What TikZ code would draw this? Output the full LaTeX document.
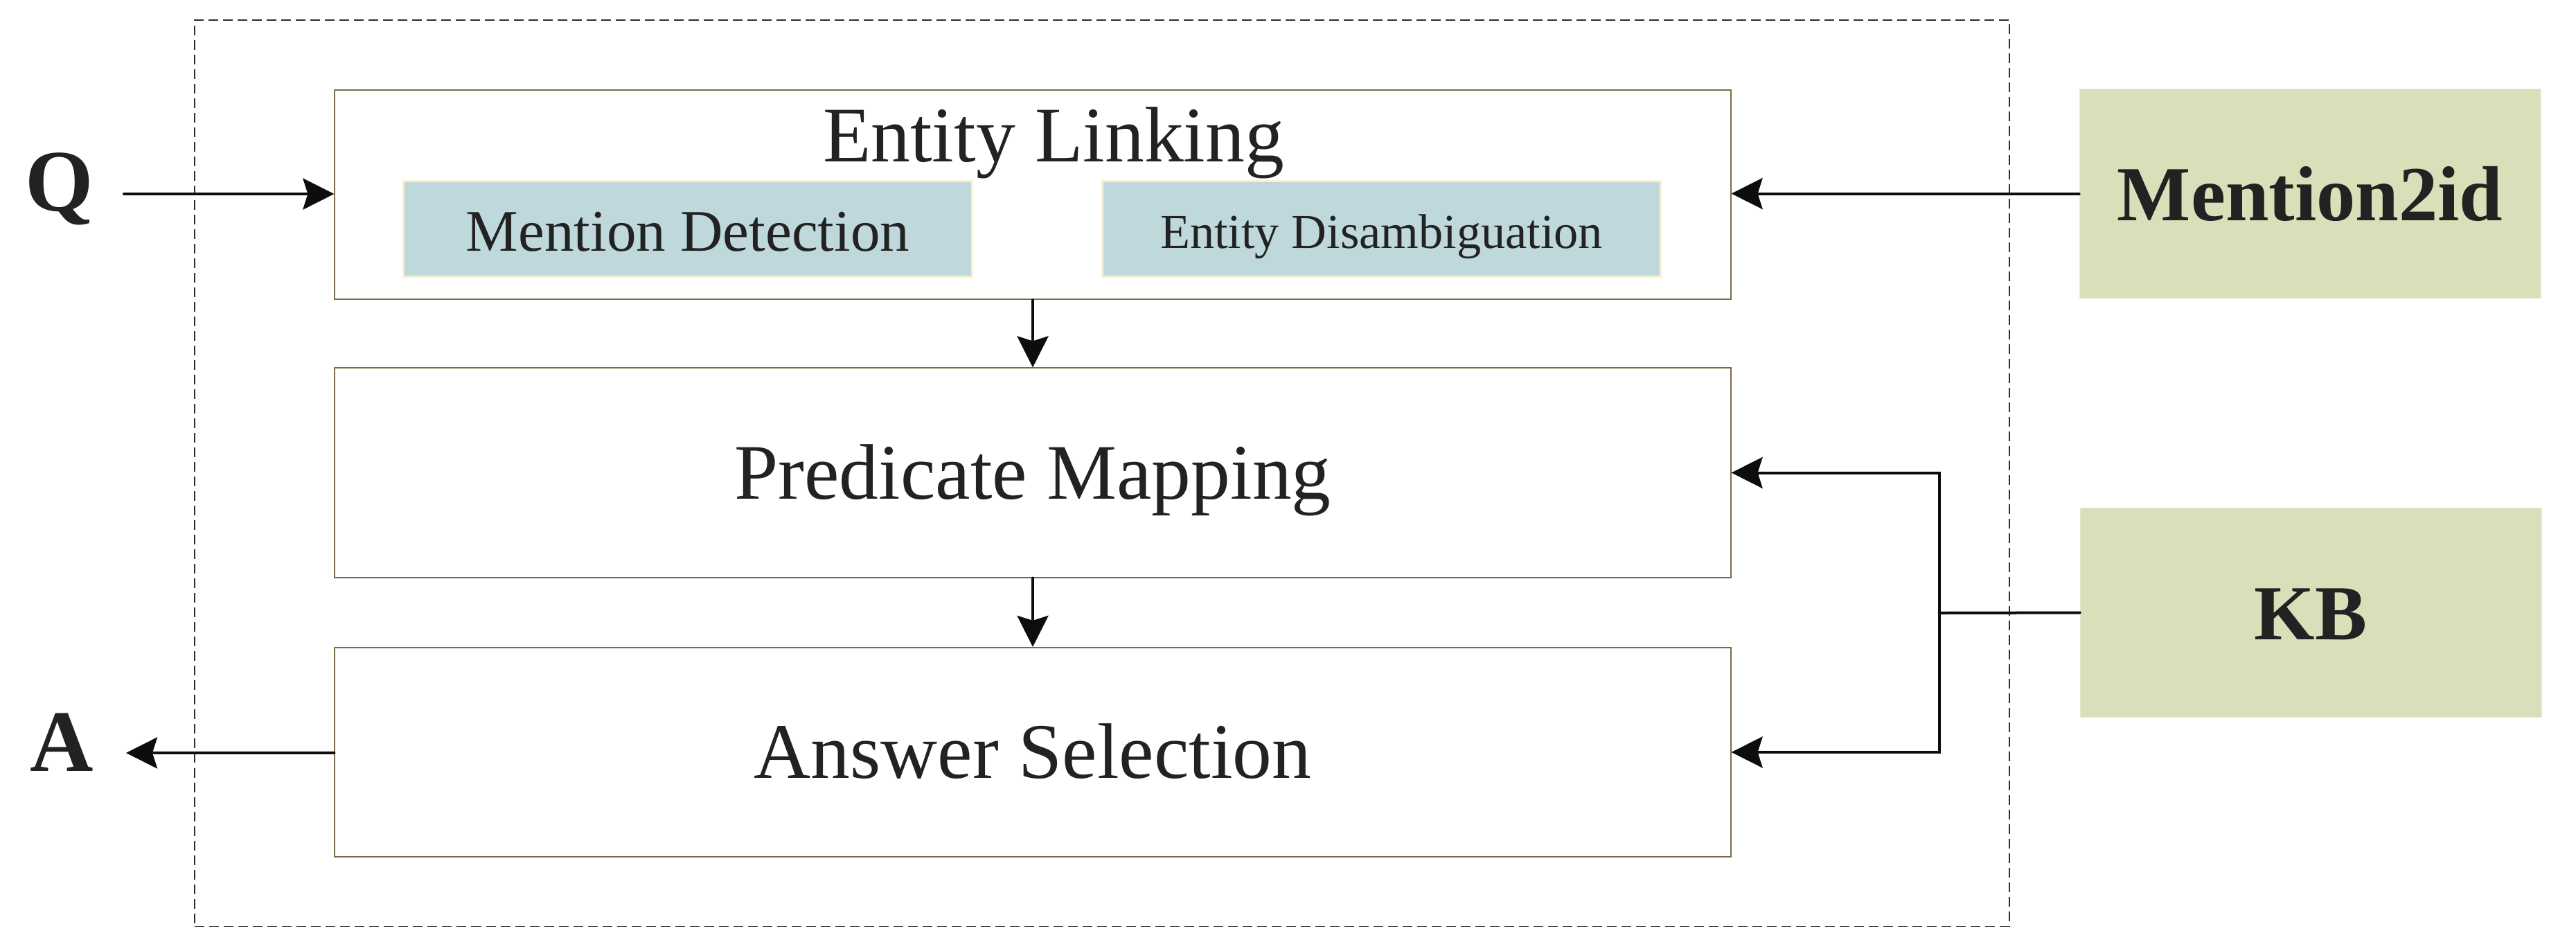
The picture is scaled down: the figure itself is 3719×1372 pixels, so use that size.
\documentclass[tikz,border=0pt]{standalone}
\usepackage{fontspec}
\setmainfont{Liberation Serif}
\usetikzlibrary{arrows.meta}
\definecolor{boxline}{RGB}{122,108,72}
\definecolor{tealfill}{RGB}{191,216,220}
\definecolor{creamline}{RGB}{250,240,205}
\definecolor{greenfill}{RGB}{216,224,185}
\definecolor{greenline}{RGB}{228,234,210}
\definecolor{txt}{RGB}{34,34,34}
\definecolor{dashgray}{RGB}{45,45,45}
\tikzset{
  stagebox/.style={draw=boxline, line width=0.02cm, fill=white, rectangle, inner sep=0pt,
    minimum width=20.14cm, minimum height=3.02cm, text=txt,
    text height=0.75cm, text depth=0pt,
    font=\fontsize{32.3}{37}\selectfont},
  subbox/.style={draw=creamline, line width=0.03cm, fill=tealfill, rectangle, inner sep=0pt,
    minimum height=1.37cm, text=txt, text depth=0pt},
  srcbox/.style={draw=greenline, line width=0.015cm, fill=greenfill, rectangle, inner sep=0pt,
    minimum width=6.65cm, minimum height=3.02cm, text=txt,
    text height=0.77cm, text depth=0pt,
    font=\fontsize{32}{38}\selectfont\bfseries},
  iolabel/.style={text=txt, inner sep=0pt, font=\fontsize{36}{40}\selectfont\bfseries},
  arr/.style={draw=black!95, line width=0.04cm, line cap=round,
    -{Stealth[length=0.45cm, width=0.45cm, inset=0.07cm]}},
  plainline/.style={draw=black!95, line width=0.04cm, line cap=round},
  frame/.style={draw=dashgray, line width=0.018cm, dash pattern=on 0.14cm off 0.07cm}
}
\begin{document}
\begin{tikzpicture}[x=0.01cm, y=-0.01cm]
\useasboundingbox[fill=white] (0,0) rectangle (3719,1372);
% dashed frame
\node[frame, rectangle, inner sep=0pt, minimum width=26.18cm, minimum height=13.08cm] (frm) at (1591,683) {};
% stage boxes
\node[stagebox] (EL) at (1491,281) {};
\node[anchor=base, text=txt, inner sep=0pt, font=\fontsize{32.3}{37}\selectfont] (ELt) at (1521,233) {Entity Linking};
\node[subbox, minimum width=8.2cm, text height=0.63cm, font=\fontsize{24.2}{28}\selectfont] (MD) at (993,330.5) {Mention Detection};
\node[subbox, minimum width=8.05cm, text height=0.55cm, font=\fontsize{20}{24}\selectfont] (ED) at (1994.5,330.5) {Entity Disambiguation};
\node[stagebox] (PM) at (1491,682.5) {Predicate Mapping};
\node[stagebox] (AS) at (1491,1086) {Answer Selection};
% sources
\node[srcbox] (M2) at (3335,279.5) {Mention2id};
\node[srcbox] (KB) at (3336,884.5) {KB};
% input / output
\node[iolabel, anchor=base] (Q) at (86,304) {Q};
\node[iolabel, anchor=base] (A) at (89,1113) {A};
% connectors
\coordinate (qs) at (179,280);
\coordinate (ae) at (182,1087);
\coordinate (jn) at (2800,885);
\draw[arr] (qs) -- (EL.west |- qs);
\draw[arr] (M2.west) -- (EL.east |- M2.west);
\draw[arr] (EL.south) -- (PM.north);
\draw[arr] (PM.south) -- (AS.north);
\draw[arr] (AS.west |- ae) -- (ae);
\draw[plainline] (KB.west) -- (jn);
\draw[arr, line join=miter] (jn) |- (PM.east);
\draw[arr, line join=miter] (jn) |- (AS.east);
\end{tikzpicture}
\end{document}
